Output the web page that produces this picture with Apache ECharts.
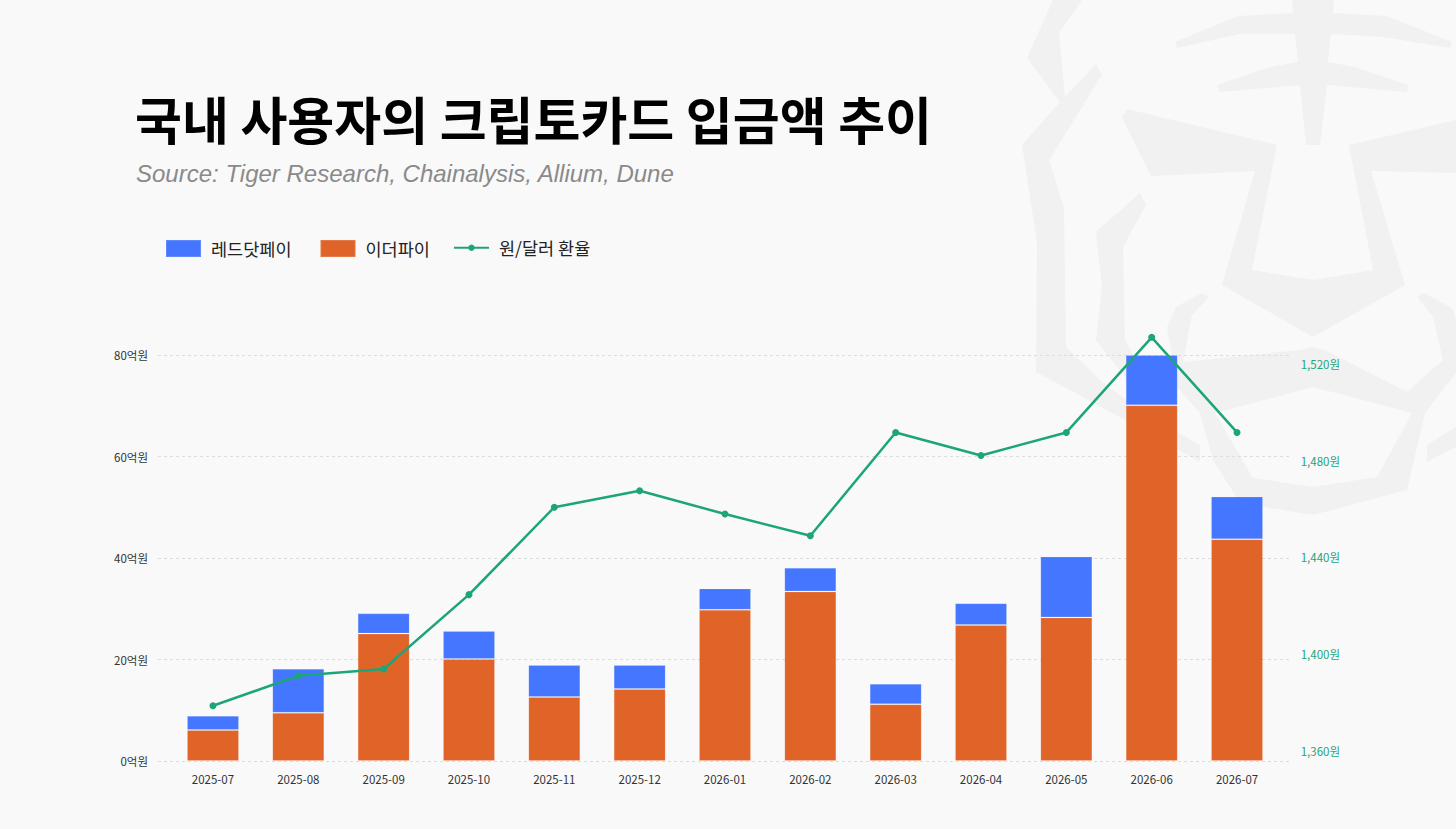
<!DOCTYPE html>
<html>
<head>
<meta charset="utf-8">
<script src="https://cdn.jsdelivr.net/npm/echarts@6/dist/echarts.min.js"></script>
<style>
  html, body { margin: 0; padding: 0; background: #f9f9f9; }
  #chart { width: 1456px; height: 829px; }
</style>
</head>
<body>
<div id="chart"></div>
<script>
// 데이터
var months = ['2025-07', '2025-08', '2025-09', '2025-10', '2025-11', '2025-12',
  '2026-01', '2026-02', '2026-03', '2026-04', '2026-05', '2026-06', '2026-07'];
var etherfi = [6.1, 9.5, 25.1, 20.1, 12.6, 14.2, 29.8, 33.4, 11.2, 26.8, 28.3, 70.1, 43.7];
var reddot = [2.8, 8.7, 4.0, 5.5, 6.3, 4.7, 4.2, 4.7, 4.0, 4.3, 12.0, 9.9, 8.4];
var krwUsd = [1378.7, 1391.1, 1393.9, 1424.6, 1460.7, 1467.5, 1457.9, 1448.9,
  1491.6, 1482.1, 1491.6, 1530.9, 1491.6];

var BLUE = '#4576FF';
var ORANGE = '#E06327';
var GREEN = '#1DA57A';
var FONT = '"Noto Sans CJK KR", "Noto Sans", sans-serif';
var WM = '#f1f1f1';

// 배경 호랑이 워터마크 (대략적인 모양)
function poly(points, fill) {
  return { type: 'polygon', silent: true, z: -10, shape: { points: points }, style: { fill: fill } };
}
var watermark = [
  poly([[1053,0],[1027,58],[1060,102],[1022,145],[1037,243],[1036,372],[1120,417],[1200,462],
    [1200,445],[1143,413],[1100,380],[1066,347],[1064,208],[1049,160],[1102,75],[1096,64],
    [1065,97],[1059,33],[1082,0]], WM),
  poly([[1140,193],[1146,205],[1123,247],[1125,340],[1150,385],[1135,390],[1096,340],[1102,287],[1096,232]], WM),
  poly([[1175,42],[1238,16],[1293,13],[1292,0],[1334,0],[1333,13],[1387,16],[1452,42],[1450,48],
    [1383,37],[1331,34],[1328,62],[1355,67],[1408,85],[1407,92],[1327,85],[1320,145],[1306,145],
    [1300,85],[1220,92],[1217,85],[1270,67],[1298,62],[1295,34],[1240,34],[1177,48]], WM),
  poly([[1127,109],[1277,145],[1252,270],[1313,280],[1373,270],[1349,145],[1456,120],[1456,173],
    [1371,171],[1405,285],[1313,337],[1222,285],[1255,171],[1151,176],[1122,117]], WM),
  poly([[1176,307],[1202,293],[1209,297],[1192,315],[1183,362],[1300,350],[1313,347],[1325,350],
    [1407,392],[1443,360],[1433,317],[1417,297],[1424,293],[1452,308],[1456,320],[1456,373],
    [1425,413],[1407,490],[1313,515],[1240,503],[1213,460],[1200,413],[1177,387],[1167,327]], WM),
  poly([[1215,413],[1313,387],[1412,413],[1377,477],[1313,487],[1253,478]], '#f9f9f9'),
  poly([[1427,445],[1456,427],[1456,447],[1427,462]], WM)
];

var chart = echarts.init(document.getElementById('chart'), null, { renderer: 'svg' });

var legendText = { fontSize: 17.5, color: '#222', fontFamily: FONT, padding: [0, 0, 0, 5] };

var option = {
  backgroundColor: '#f9f9f9',
  textStyle: { fontFamily: FONT },
  animation: false,
  graphic: watermark.concat([
    {
      type: 'text', left: 135, top: 92, z: 10,
      style: { text: '국내 사용자의 크립토카드 입금액 추이', fontFamily: FONT,
        fontWeight: 'bold', fontSize: 51, fill: '#000' }
    },
    {
      type: 'text', left: 136, top: 161, z: 10,
      style: { text: 'Source: Tiger Research, Chainalysis, Allium, Dune',
        fontFamily: '"Liberation Sans", Arial, sans-serif', fontStyle: 'italic',
        fontSize: 24, fill: '#8a8a8a' }
    }
  ]),
  legend: [
    {
      data: ['레드닷페이', '이더파이'],
      left: 165, top: 239, padding: 0, icon: 'rect',
      itemWidth: 35, itemHeight: 17, itemGap: 28,
      textStyle: legendText
    },
    {
      data: ['원/달러 환율'],
      left: 453, top: 239, padding: 0,
      itemWidth: 35, itemHeight: 8,
      textStyle: legendText
    }
  ],
  grid: [
    { left: 158, right: 164, top: 355, bottom: 68 },
    { left: 170.3, right: 176.3, top: 355, bottom: 68 },
    { left: 170.3, right: 176.3, top: 315.3, bottom: 78 }
  ],
  xAxis: [
    { gridIndex: 0, type: 'value', min: 0, max: 1, show: false },
    {
      gridIndex: 1, type: 'category', data: months,
      axisLine: { show: false }, axisTick: { show: false },
      axisLabel: { color: '#333', fontSize: 11.5, margin: 12 }
    },
    { gridIndex: 2, type: 'category', data: months, show: false }
  ],
  yAxis: [
    {
      gridIndex: 0, type: 'value', min: 0, max: 80, interval: 20,
      axisLine: { show: false }, axisTick: { show: false },
      axisLabel: { color: '#333', fontSize: 11.5, margin: 10, formatter: '{value}억원' },
      splitLine: { lineStyle: { color: '#dcdcdc', type: [3, 3], width: 1 } }
    },
    { gridIndex: 1, type: 'value', min: 0, max: 80, show: false },
    {
      gridIndex: 2, type: 'value', position: 'right', min: 1360, max: 1540, interval: 40,
      axisLine: { show: false }, axisTick: { show: false }, splitLine: { show: false },
      axisLabel: {
        color: GREEN, fontSize: 11.5, margin: 21, showMaxLabel: false,
        formatter: function (v) { return v.toLocaleString('en-US') + '원'; }
      }
    }
  ],
  series: [
    {
      name: '이더파이', type: 'bar', stack: 'total', xAxisIndex: 1, yAxisIndex: 1,
      data: etherfi, barWidth: 52,
      itemStyle: { color: ORANGE, borderColor: 'rgba(255,255,255,0.15)', borderWidth: 1 }
    },
    {
      name: '레드닷페이', type: 'bar', stack: 'total', xAxisIndex: 1, yAxisIndex: 1,
      data: reddot, barWidth: 52,
      itemStyle: { color: BLUE, borderColor: 'rgba(255,255,255,0.15)', borderWidth: 1 }
    },
    {
      name: '원/달러 환율', type: 'line', xAxisIndex: 2, yAxisIndex: 2,
      data: krwUsd, symbol: 'circle', symbolSize: 7, z: 5,
      lineStyle: { color: GREEN, width: 2.5 },
      itemStyle: { color: GREEN }
    }
  ]
};

chart.setOption(option);
</script>
</body>
</html>
